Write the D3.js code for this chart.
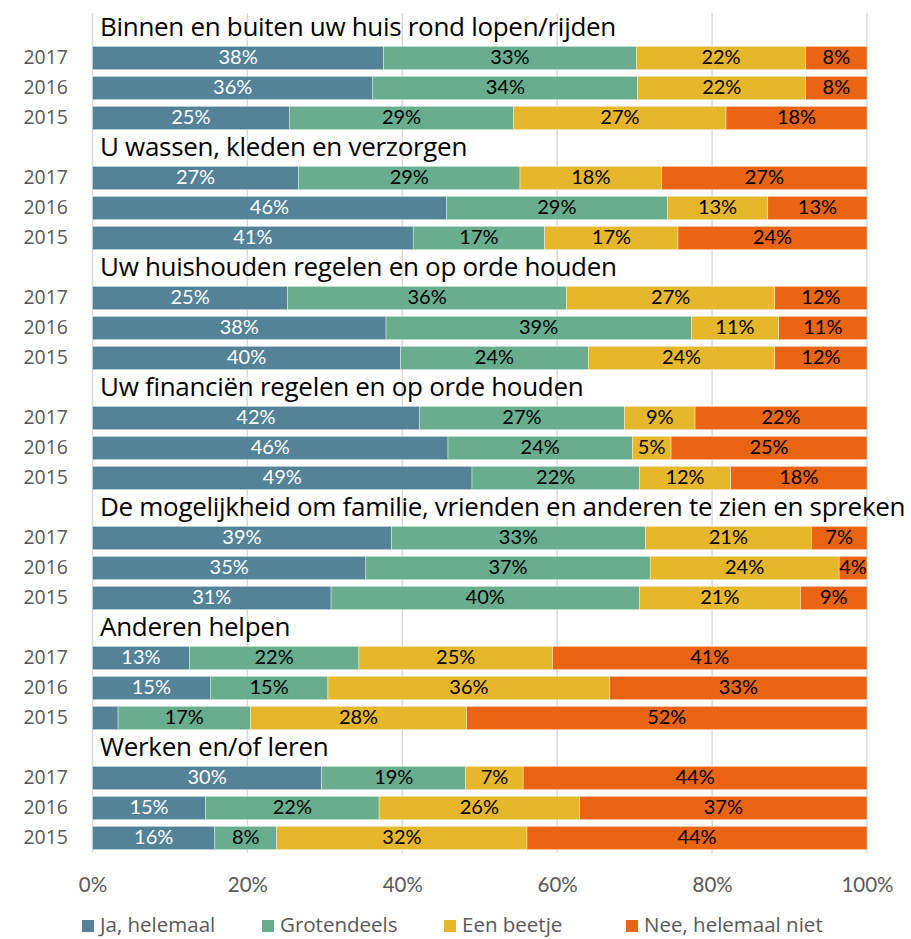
<!DOCTYPE html>
<html><head><meta charset="utf-8">
<script src="https://cdn.jsdelivr.net/npm/d3@7"></script>
<style>body{margin:0;background:#fff}svg{display:block}</style>
</head><body><svg id="c" width="911" height="939"></svg>
<script>
const categories = [
  "Binnen en buiten uw huis rond lopen/rijden",
  "U wassen, kleden en verzorgen",
  "Uw huishouden regelen en op orde houden",
  "Uw financiën regelen en op orde houden",
  "De mogelijkheid om familie, vrienden en anderen te zien en spreken",
  "Anderen helpen",
  "Werken en/of leren"
];
const years = ["2017", "2016", "2015"];
const seriesNames = ["Ja, helemaal", "Grotendeels", "Een beetje", "Nee, helemaal niet"];
const ja     = [37.6,36.2,25.4, 26.6,45.7,41.4, 25.2,37.9,39.8, 42.2,45.9,49.0, 38.6,35.3,30.8, 12.5,15.2,3.3, 29.6,14.6,15.8];
const grot   = [32.6,34.2,29.0, 28.6,28.5,17.0, 36.0,39.4,24.2, 26.5,23.8,21.6, 32.8,36.7,39.8, 21.9,15.2,17.1, 18.6,22.4,8.0];
const beetje = [21.9,21.7,27.4, 18.3,13.0,17.2, 26.9,11.3,24.1, 9.1,5.0,11.8, 21.4,24.4,20.8, 25.0,36.4,27.9, 7.4,25.9,32.3];
const nee    = [7.9,7.9,18.2, 26.5,12.8,24.4, 11.9,11.4,11.9, 22.2,25.3,17.6, 7.2,3.6,8.6, 40.6,33.2,51.7, 44.4,37.1,43.9];
const xTicks = [0, 0.2, 0.4, 0.6, 0.8, 1.0];
const colors = ["#548398", "#69ad8f", "#e6b72a", "#e96413"];

(function () {
const svg = d3.select("#c");
const mLeft = 92.5, mRight = 867, mTop = 13;
const rows = [];
categories.forEach((c, ci) => {
  rows.push({key: "t" + ci, type: "title", text: c});
  years.forEach((yr, yi) => {
    const i = ci * 3 + yi;
    rows.push({key: "r" + i, type: "bar", year: yr, vals: [ja[i], grot[i], beetje[i], nee[i]]});
  });
});
const plotBottom = mTop + rows.length * 30;
const y = d3.scaleBand().domain(rows.map(r => r.key)).range([mTop, plotBottom]).paddingInner(0.22).paddingOuter(0.11);
const x = d3.scaleLinear().domain([0, 1]).range([mLeft, mRight]);

svg.append("g").selectAll("line").data(xTicks).join("line")
  .attr("x1", d => x(d)).attr("x2", d => x(d))
  .attr("y1", mTop).attr("y2", plotBottom)
  .attr("stroke", "#d9d9d9").attr("stroke-width", 1.4);

const barRows = rows.filter(r => r.type === "bar");
const gBars = svg.append("g");
barRows.forEach(r => {
  const total = d3.sum(r.vals);
  let acc = 0;
  r.vals.forEach((v, si) => {
    const x0 = x(acc / total), x1 = x((acc + v) / total);
    acc += v;
    gBars.append("rect").attr("x", x0).attr("width", x1 - x0)
      .attr("y", y(r.key)).attr("height", y.bandwidth())
      .attr("fill", colors[si]).attr("stroke", "#fff").attr("stroke-width", 0.4);
    if (v >= 3.5) {
      gBars.append("text").attr("x", (x0 + x1) / 2).attr("y", y(r.key) + y.bandwidth() / 2 + 1)
        .attr("text-anchor", "middle").attr("dominant-baseline", "middle")
        .attr("font-family", "Lato").attr("font-weight", 400).attr("font-size", 20)
        .attr("fill", si === 0 ? "#ffffff" : "#000000")
        .text(Math.round(v) + "%");
    }
  });
  svg.append("text").attr("x", 68).attr("y", y(r.key) + y.bandwidth() / 2 + 1)
    .attr("text-anchor", "end").attr("dominant-baseline", "middle")
    .attr("font-family", "Open Sans").attr("font-size", 19.5).attr("fill", "#595959")
    .text(r.year);
});

rows.filter(r => r.type === "title").forEach(r => {
  svg.append("text").attr("x", 100).attr("y", y(r.key) + 19.5)
    .attr("font-family", "Open Sans").attr("font-size", 26).attr("fill", "#000")
    .attr("letter-spacing", -0.3)
    .text(r.text);
});

const axis = d3.axisBottom(x).tickValues(xTicks).tickFormat(d3.format(".0%")).tickSize(0).tickPadding(0);
const ga = svg.append("g").attr("transform", `translate(0,${plotBottom + 24})`).call(axis);
ga.select(".domain").remove();
ga.selectAll("text").attr("font-family", "Lato").attr("font-weight", 400).attr("font-size", 20.5).attr("fill", "#595959");

const legX = [82, 262, 444, 626];
const leg = svg.append("g").attr("transform", "translate(0,926)");
seriesNames.forEach((s, i) => {
  leg.append("rect").attr("x", legX[i]).attr("y", -6).attr("width", 12).attr("height", 12).attr("fill", colors[i]);
  leg.append("text").attr("x", legX[i] + 18).attr("y", 1).attr("dominant-baseline", "middle")
    .attr("font-family", "Open Sans").attr("font-size", 20.5).attr("fill", "#595959").text(s);
});
})();
</script></body></html>
